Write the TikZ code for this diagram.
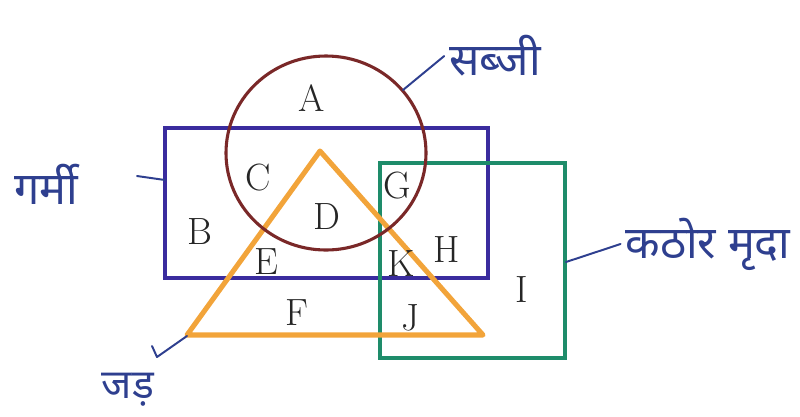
\documentclass[tikz,border=0pt]{standalone}
\usepackage{fontspec}
\newfontfamily\hindi[Script=Devanagari]{Noto Sans}
\usepackage{tikz}

\definecolor{vegred}{HTML}{7A2828}
\definecolor{heatblue}{HTML}{3A2C9E}
\definecolor{soilgreen}{HTML}{1E8C6A}
\definecolor{rootorange}{HTML}{F2A43A}
\definecolor{inkblue}{HTML}{2E3F8F}

\tikzset{
  region/.style={font=\fontsize{27}{30}\selectfont, text=black!85},
  setname/.style={font=\hindi\fontsize{32}{36}\selectfont, text=inkblue},
  leader/.style={inkblue, line width=1.4pt, line cap=round, line join=round}
}

\begin{document}
\begin{tikzpicture}[x=0.025cm,y=-0.025cm]
\useasboundingbox (0,0) rectangle (800,416);
% sets
\draw[heatblue, line width=3pt] (165,128) rectangle (488,278);
\draw[soilgreen, line width=3pt] (380,163) rectangle (565,358);
\draw[rootorange, line width=3.6pt, line join=round] (187,335) -- (320,151) -- (483,335) -- cycle;
\draw[vegred, line width=2.2pt] (326,153) ellipse [x radius=100, y radius=97];
% regions
\foreach \lab/\x/\y in {A/312/98,B/200/232,C/258/178,D/327/217,E/266/262,
                        F/297/313,G/397/186,H/447/250,I/522/290,J/410/318,K/401/264} {
  \node[region] (reg\lab) at (\x,\y) {\lab};
}
% names
\coordinate (vegpt) at (403,90);
\coordinate (heatpt) at (165,180);
\coordinate (soilpt) at (566,262);
\coordinate (rootpt) at (187,336);
\node[setname] (veg) at (495,56) {सब्जी};
\node[setname] (heat) at (46,184) {गर्मी};
\node[setname] (soil) at (708,244) {कठोर मृदा};
\node[setname, font=\hindi\fontsize{29}{33}\selectfont] (root) at (128,390) {जड़};
\draw[leader] (vegpt) -- (veg.west);
\draw[leader] (heatpt) -- ++(-28,-4);
\draw[leader] (soilpt) -- (soil.west);
\draw[leader] (rootpt) -- (157,357) -- (152,346);
\end{tikzpicture}
\end{document}
